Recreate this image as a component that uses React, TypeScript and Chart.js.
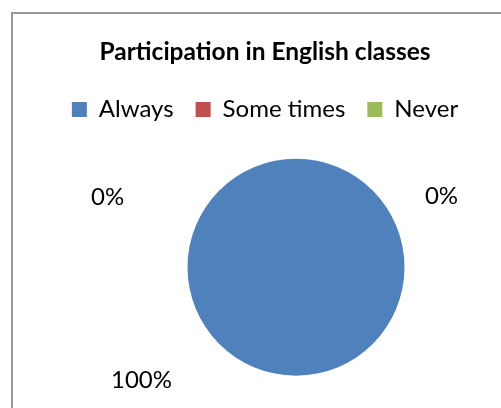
import React, { useEffect, useRef } from "react";
import { Chart, registerables } from "chart.js";

Chart.register(...registerables);

const titleText = "Participation in English classes";
const categories = ["Always", "Some times", "Never"];
const values = [100, 0, 0];
const colors = ["#4F81BD", "#C0504D", "#9BBB59"];
// label placement relative to pie centre, in units of the pie radius
const labelOffsets: [number, number][] = [
  [-1.424, 1.046],
  [-1.737, -0.641],
  [1.341, -0.65],
];

const FONT = "Lato, 'Open Sans', sans-serif";

const shiftPlugin = {
  id: "shiftPie",
  afterLayout(chart: any) {
    chart.chartArea.left += 31;
    chart.chartArea.right += 31;
  },
};

const labelPlugin = {
  id: "pieLabels",
  afterDatasetsDraw(chart: any) {
    const meta = chart.getDatasetMeta(0);
    const ctx = chart.ctx;
    const total = values.reduce((a, b) => a + b, 0);
    ctx.save();
    ctx.fillStyle = "#000";
    ctx.font = `24px ${FONT}`;
    ctx.textAlign = "center";
    ctx.textBaseline = "middle";
    meta.data.forEach((arc: any, i: number) => {
      const { x, y, outerRadius } = arc.getProps(["x", "y", "outerRadius"], true);
      const [ox, oy] = labelOffsets[i];
      const pct = Math.round((values[i] / total) * 100) + "%";
      ctx.fillText(pct, x + ox * outerRadius, y + oy * outerRadius);
    });
    ctx.restore();
  },
};

export default function App() {
  const ref = useRef<HTMLCanvasElement>(null);
  useEffect(() => {
    if (!ref.current) return;
    const chart = new Chart(ref.current, {
      type: "pie",
      data: {
        labels: categories,
        datasets: [
          {
            data: values,
            backgroundColor: colors,
            borderWidth: 0,
            radius: 108.5,
          },
        ],
      },
      options: {
        responsive: false,
        animation: false,
        layout: { padding: { left: 29, right: 0, top: 0, bottom: 5 } },
        plugins: {
          title: {
            display: true,
            text: titleText,
            color: "#000",
            font: { family: FONT, size: 24.5, weight: "bold" },
            padding: { top: 37, bottom: 9 },
          },
          legend: {
            display: true,
            position: "top",
            labels: {
              color: "#000",
              boxWidth: 15,
              boxHeight: 15,
              padding: 22,
              font: { family: FONT, size: 24 },
            },
          },
          tooltip: { enabled: false },
        },
      },
      plugins: [shiftPlugin, labelPlugin],
    });
    return () => chart.destroy();
  }, []);
  return (
    <div
      style={{
        position: "absolute",
        left: 0,
        top: 0,
        width: 501,
        height: 408,
        overflow: "hidden",
        background: "#fff",
      }}
    >
      <div
        style={{
          position: "absolute",
          left: 11,
          top: 12,
          width: 600,
          height: 600,
          border: "2px solid #9a9a9a",
        }}
      />
      <canvas
        ref={ref}
        width={501}
        height={408}
        style={{ position: "absolute", left: 0, top: 0 }}
      />
    </div>
  );
}
